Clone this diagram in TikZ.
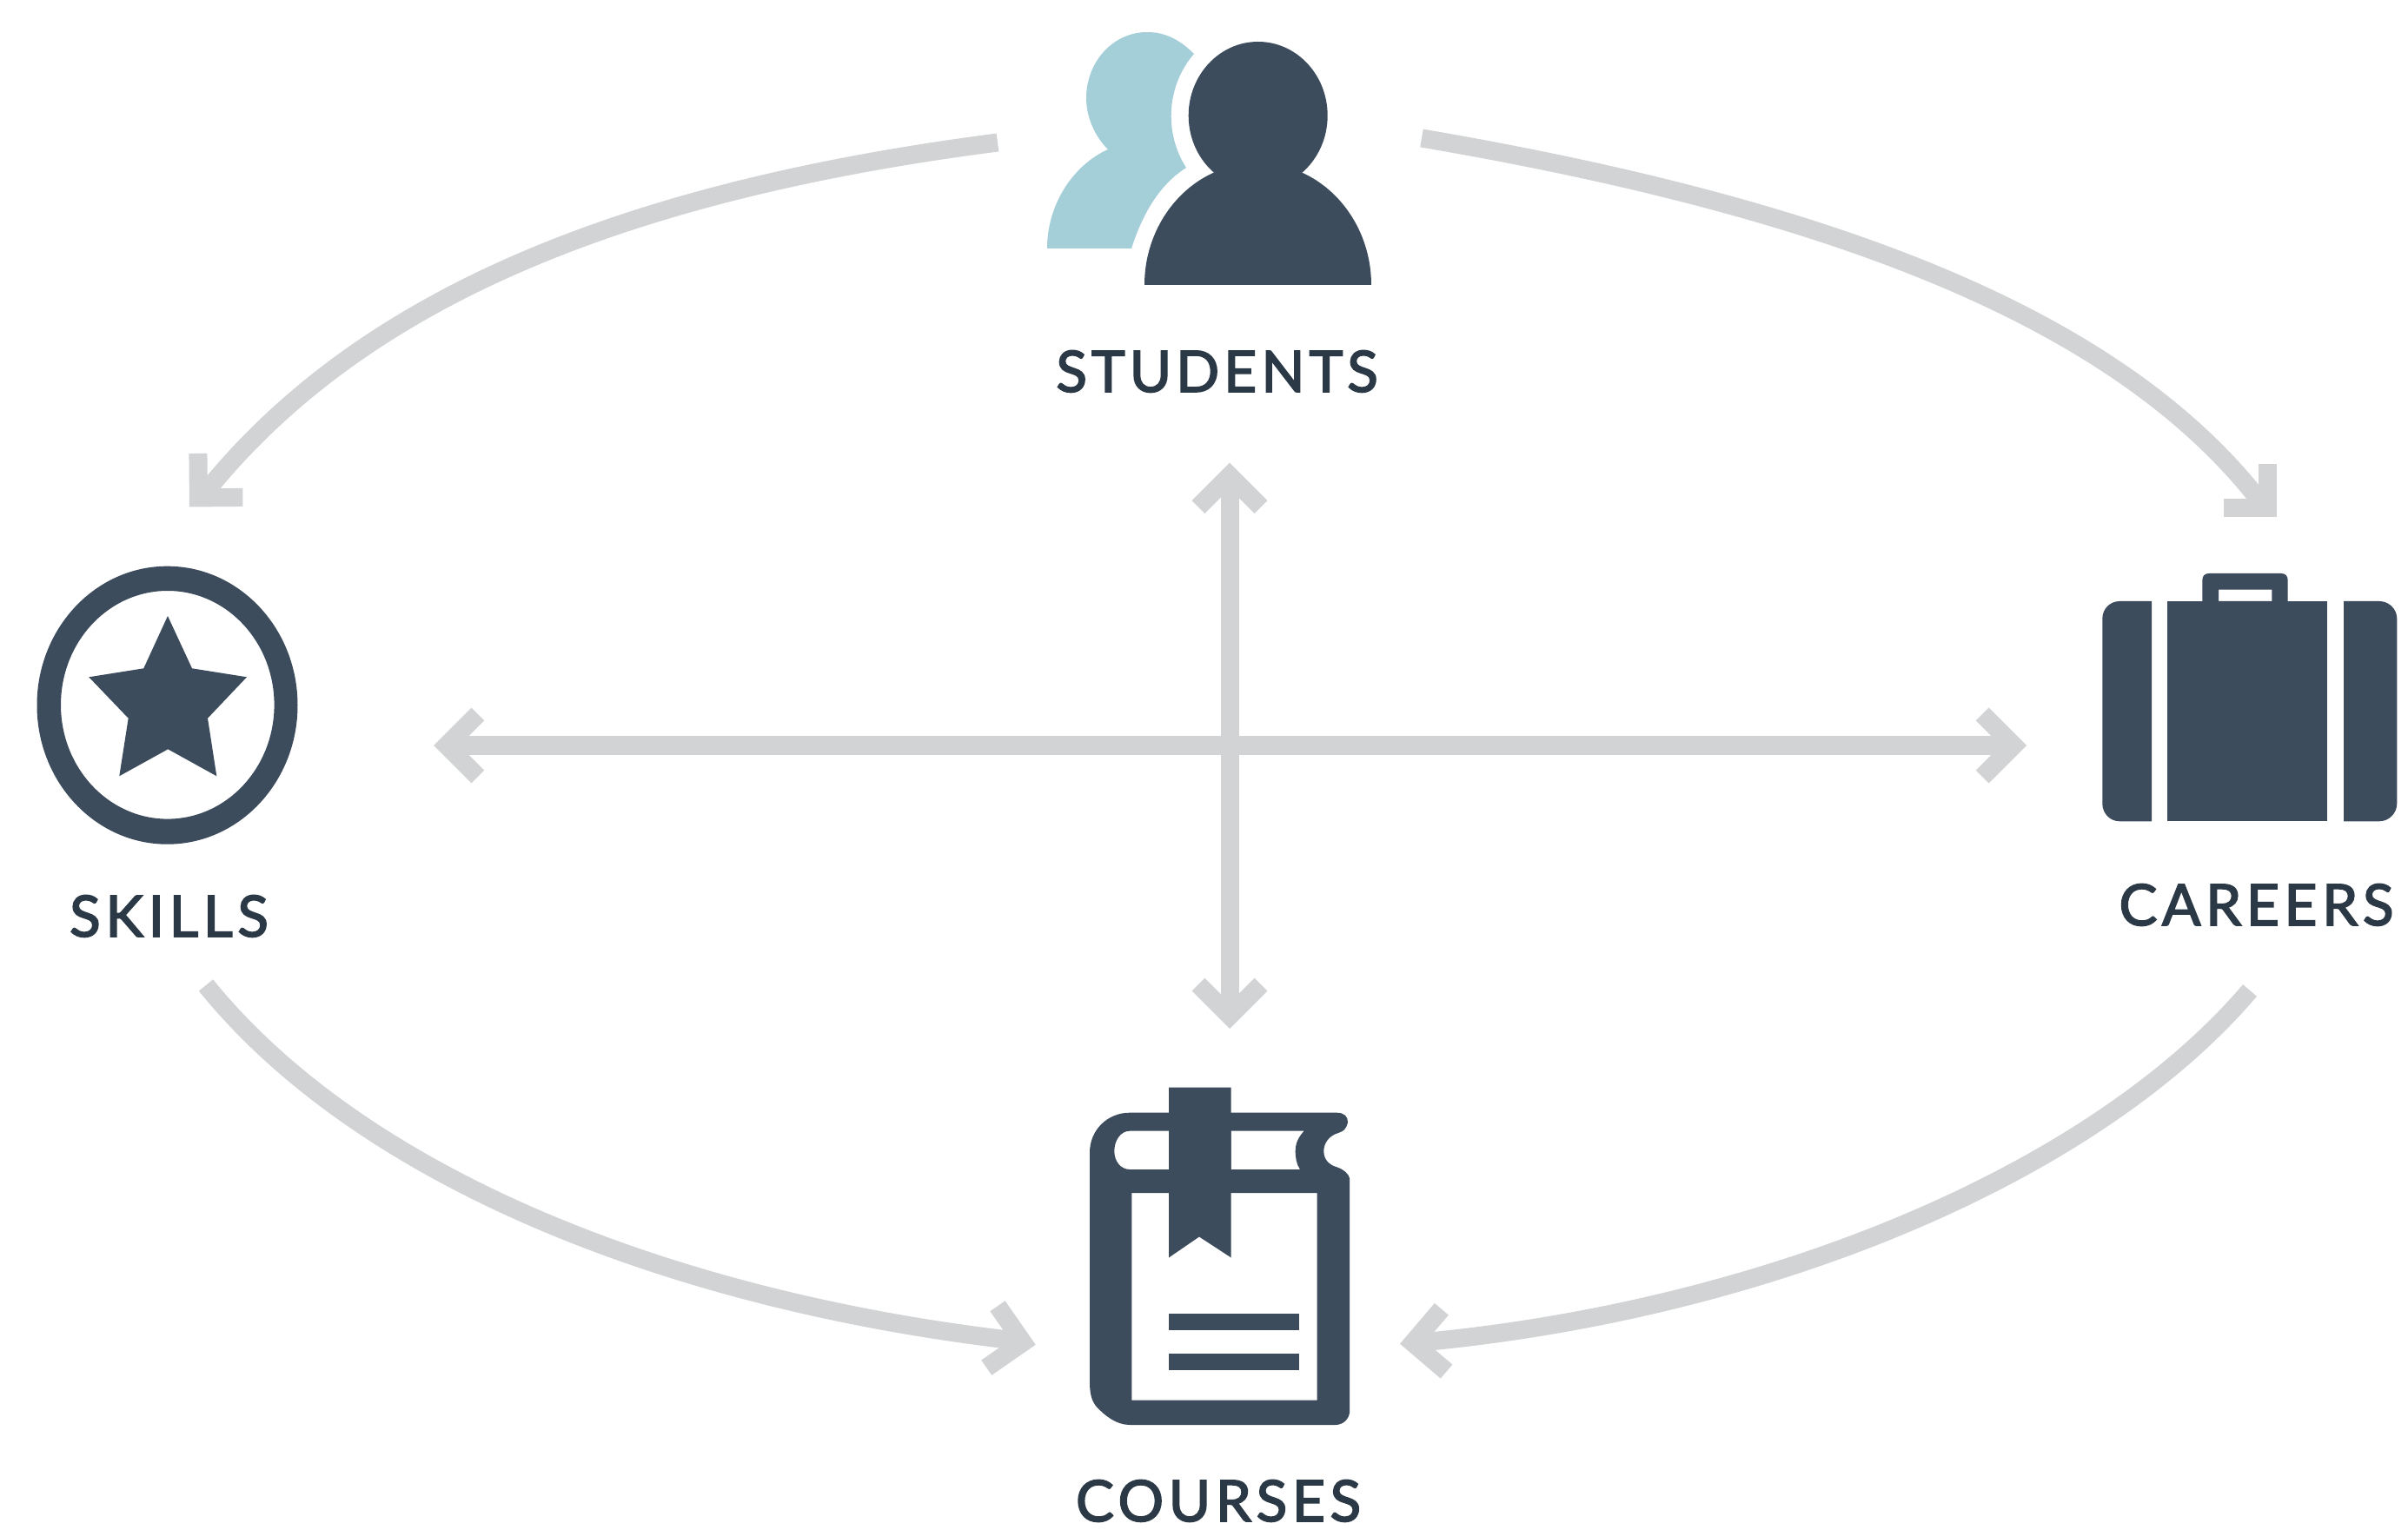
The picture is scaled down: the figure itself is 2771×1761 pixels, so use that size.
\documentclass[tikz,border=0pt]{standalone}
\usepackage{fontspec}
\usetikzlibrary{arrows.meta}
\newfontfamily\lblfont[LetterSpace=8.5,FakeBold=2.5]{Lato}
\newfontfamily\lblfonttight[LetterSpace=7.6,FakeBold=2.5]{Lato}
\definecolor{icondark}{HTML}{3D4C5D}
\definecolor{textdark}{HTML}{2B3946}
\definecolor{iconlight}{HTML}{A4CED8}
\definecolor{linkgrey}{HTML}{D1D3D4}
\tikzset{
  x=0.01cm,y=-0.01cm,
  lbl/.style={anchor=base,inner sep=0pt,text=textdark,font=\lblfont\fontsize{18.7pt}{20pt}\selectfont},
  lbltight/.style={lbl,font=\lblfonttight\fontsize{18.7pt}{20pt}\selectfont},
  icon/.style={fill=icondark,draw=none},
  link/.style={draw=linkgrey,line width=0.21cm,line join=miter,
    -{Straight Barb[length=0.36cm,width=0.72cm,line width=0.21cm]}},
  linkboth/.style={link,{Straight Barb[length=0.36cm,width=0.72cm,line width=0.21cm]}-{Straight Barb[length=0.36cm,width=0.72cm,line width=0.21cm]}},
}
\begin{document}
\begin{tikzpicture}
\useasboundingbox (0,0) rectangle (2771,1761);
\fill[white] (0,0) rectangle (2771,1761);
% back person
\fill[iconlight] (1205,286) -- (1302,286) .. controls (1315,245) and (1335,212) .. (1365,193)
  .. controls (1339,152.7) and (1342.6,97.9) .. (1374,62) .. controls (1357,45) and (1340,37) .. (1320,37)
  .. controls (1281,37) and (1250,71) .. (1250,113) .. controls (1250,135) and (1260,157) .. (1275,172)
  .. controls (1235,190) and (1205,235) .. (1205,286) -- cycle;
% front person
\fill[icon] (1447.7,133) ellipse [x radius=80,y radius=85];
\fill[icon] (1317,328) -- (1578,328) .. controls (1578,270) and (1545,220) .. (1499,199) -- (1396,199)
  .. controls (1350,220) and (1317,270) .. (1317,328) -- cycle;
\node[lbltight] (students) at (1400.5,451) {STUDENTS};
% skills icon
\fill[icon,even odd rule] (192.5,811.7) ellipse [x radius=150,y radius=160]
  (192.8,811.3) ellipse [x radius=122.8,y radius=131.3];
\fill[icon] (193,709) -- (221,769.3) -- (284,779.3) -- (239,826.7) -- (249.3,893.3) -- (193.3,862.3)
  -- (137.3,893.3) -- (147.7,826.7) -- (102.3,779.3) -- (165.3,769.3) -- cycle;
\node[lbl] (skills) at (194.5,1078) {SKILLS};
% careers icon
\fill[icon] (2476,692) -- (2439,692) .. controls (2428,692) and (2419.3,701) .. (2419.3,712) -- (2419.3,925)
  .. controls (2419.3,936) and (2428,945.3) .. (2439,945.3) -- (2476,945.3) -- cycle;
\fill[icon] (2697,692) -- (2738,692) .. controls (2749,692) and (2758.3,701) .. (2758.3,712) -- (2758.3,925)
  .. controls (2758.3,936) and (2749,945.3) .. (2738,945.3) -- (2697,945.3) -- cycle;
\fill[icon] (2494.3,692) rectangle (2678.3,945.3);
\fill[icon,even odd rule] (2534.3,692) -- (2534.3,668) .. controls (2534.3,663) and (2537,660) .. (2542,660)
  -- (2625,660) .. controls (2630,660) and (2632.7,663) .. (2632.7,668) -- (2632.7,692) -- cycle
  (2553,678.7) rectangle (2614.3,692);
\node[lbl] (careers) at (2596.5,1065) {CAREERS};
% courses icon
\fill[icon,even odd rule] (1254,1326.7) .. controls (1254,1300) and (1275,1280.7) .. (1300,1280.7)
  -- (1538,1280.7) .. controls (1547,1280.7) and (1551,1285) .. (1551,1291.7)
  .. controls (1549,1300) and (1546,1302) .. (1540,1304)
  .. controls (1530,1307) and (1523.3,1315) .. (1523.3,1325)
  .. controls (1523.3,1335) and (1530,1341) .. (1538.3,1343.3)
  .. controls (1546,1346) and (1552,1351) .. (1553,1356)
  -- (1553,1626) .. controls (1552,1634) and (1545,1640) .. (1536.7,1640)
  -- (1300,1640) .. controls (1285,1640) and (1272,1630) .. (1261.7,1619)
  .. controls (1256,1612) and (1254,1604) .. (1254,1590) -- cycle
  (1345,1301.7) -- (1300,1301.7) .. controls (1290,1301.7) and (1282.3,1312) .. (1282.3,1325)
  .. controls (1282.3,1337) and (1290,1346) .. (1300,1346) -- (1345,1346) -- cycle
  (1416.7,1301.7) -- (1500.7,1301.7) .. controls (1494,1309) and (1490.7,1316) .. (1490.7,1325)
  .. controls (1490.7,1333) and (1492,1340) .. (1496,1346) -- (1416.7,1346) -- cycle
  (1302.3,1373) rectangle (1515.7,1611.5);
\fill[icon] (1345,1251.7) -- (1416.7,1251.7) -- (1416.7,1447.5) -- (1380,1423.5) -- (1345,1447.5) -- cycle;
\fill[icon] (1345,1511.5) rectangle (1495,1531);
\fill[icon] (1345,1557.5) rectangle (1495,1577);
\node[lbl] (courses) at (1402,1751) {COURSES};
% connector ends
\coordinate (stuL) at (1148,164);
\coordinate (stuR) at (1636,159);
\coordinate (skiTip) at (218,583.5);
\coordinate (carTip) at (2620,595);
\coordinate (skiOut) at (237,1134);
\coordinate (carOut) at (2589,1140);
\coordinate (couL) at (1191.7,1547.7);
\coordinate (couR) at (1611,1546.7);
\coordinate (vTop) at (1415,532.7);
\coordinate (vBot) at (1415,1184);
\coordinate (hL) at (499,858);
\coordinate (hR) at (2332,858);
% connectors
\draw[link] (stuL) .. controls (698,222) and (415,352) .. (245,556) -- (skiTip);
\draw[link] (stuR) .. controls (2116,241) and (2435,368) .. (2597,572) -- (carTip);
\draw[link] (skiOut) .. controls (420,1360) and (780,1497) .. (1160,1542) -- (couL);
\draw[link] (carOut) .. controls (2410,1350) and (2040,1505) .. (1645,1544) -- (couR);
\draw[linkboth] (vBot) -- (vTop);
\draw[linkboth] (hL) -- (hR);
\end{tikzpicture}
\end{document}
